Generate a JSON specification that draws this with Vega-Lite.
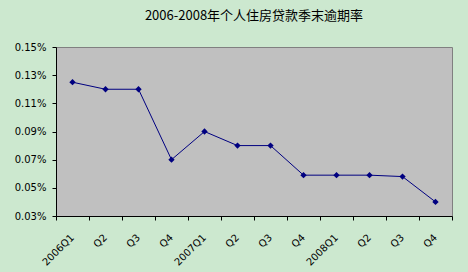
{
  "$schema": "https://vega.github.io/schema/vega-lite/v6.json",
  "width": 396,
  "height": 169,
  "autosize": {"type": "none"},
  "padding": {"left": 56, "top": 47, "right": 16, "bottom": 56},
  "background": "#CCE8CF",
  "title": {
    "text": "2006-2008年个人住房贷款季末逾期率",
    "font": "Noto Sans CJK SC",
    "fontSize": 13,
    "fontWeight": "normal",
    "color": "#000000",
    "anchor": "middle",
    "offset": 19
  },
  "data": {
    "values": [
      {"period": "2006Q1", "rate": 0.00125},
      {"period": "Q2", "rate": 0.0012},
      {"period": "Q3", "rate": 0.0012},
      {"period": "Q4", "rate": 0.0007},
      {"period": "2007Q1", "rate": 0.0009},
      {"period": "Q2\u200b", "rate": 0.0008},
      {"period": "Q3\u200b", "rate": 0.0008},
      {"period": "Q4\u200b", "rate": 0.00059},
      {"period": "2008Q1", "rate": 0.00059},
      {"period": "Q2\u200b\u200b", "rate": 0.00059},
      {"period": "Q3\u200b\u200b", "rate": 0.00058},
      {"period": "Q4\u200b\u200b", "rate": 0.0004}
    ]
  },
  "mark": {
    "type": "line",
    "color": "#000080",
    "strokeWidth": 1,
    "point": {"shape": "diamond", "size": 40, "filled": true, "color": "#000080"}
  },
  "encoding": {
    "x": {
      "field": "period",
      "type": "ordinal",
      "sort": null,
      "scale": {"type": "band", "paddingInner": 0, "paddingOuter": 0},
      "axis": {
        "title": null,
        "tickBand": "extent",
        "tickSize": 4,
        "tickColor": "#000000",
        "domainColor": "#000000",
        "labelAngle": -45,
        "labelPadding": 12,
        "labelOffset": -4,
        "labelFont": "DejaVu Sans",
        "labelFontSize": 10,
        "labelColor": "#000000"
      }
    },
    "y": {
      "field": "rate",
      "type": "quantitative",
      "scale": {"domain": [0.0003, 0.0015], "nice": false, "zero": false},
      "axis": {
        "title": null,
        "values": [0.0003, 0.0005, 0.0007, 0.0009, 0.0011, 0.0013, 0.0015],
        "format": ".2%",
        "grid": false,
        "tickSize": 4,
        "tickColor": "#000000",
        "domainColor": "#000000",
        "labelPadding": 6,
        "labelFont": "DejaVu Sans",
        "labelFontSize": 10,
        "labelColor": "#000000"
      }
    }
  },
  "config": {
    "view": {"fill": "#C0C0C0", "stroke": "#808080", "strokeWidth": 1}
  }
}
